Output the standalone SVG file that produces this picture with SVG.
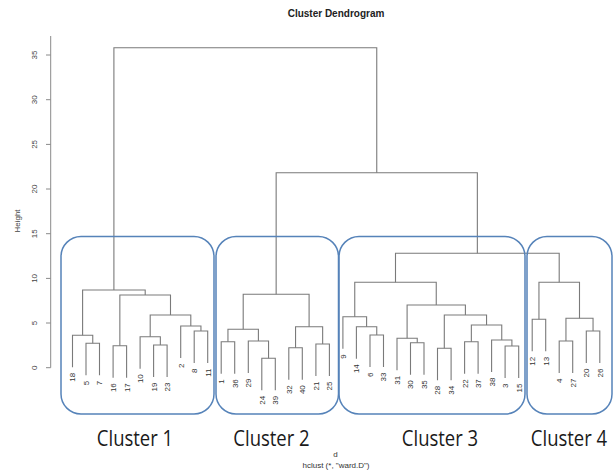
<svg xmlns="http://www.w3.org/2000/svg" width="616" height="470" viewBox="0 0 616 470">
  <style>
    .axis { stroke: #8a8a8a; stroke-width: 1; fill: none; }
    .tick { font-family: "Liberation Sans", Arial, sans-serif; font-size: 8px; fill: #444; text-anchor: middle; }
    .branch { stroke: #7a7a7a; stroke-width: 1.1; fill: none; }
    .leaf text { font-family: "Liberation Sans", Arial, sans-serif; font-size: 8px; fill: #333; text-anchor: end; }
    .box { fill: none; stroke: #5683b9; stroke-width: 1.5; }
    .clabel { font-family: "Open Sans", "Noto Sans", sans-serif; font-size: 18.5px; fill: #1a1a1a; text-anchor: middle; }
    .small { font-family: "Liberation Sans", Arial, sans-serif; font-size: 8px; fill: #333; text-anchor: middle; }
  </style>
  <rect width="616" height="470" fill="#ffffff"/>

  <!-- title -->
  <text x="336" y="17" font-family="Liberation Sans, Arial, sans-serif" font-size="10" font-weight="bold" fill="#222" text-anchor="middle">Cluster Dendrogram</text>

  <!-- y axis -->
  <g id="y-axis">
    <path class="axis" d="M50.7 36 V367.7 M46 367.7 H50.7 M46 323 H50.7 M46 278.4 H50.7 M46 233.7 H50.7 M46 189 H50.7 M46 144.4 H50.7 M46 99.7 H50.7 M46 55 H50.7"/>
    <text class="tick" transform="translate(37,367.7) rotate(-90)">0</text>
    <text class="tick" transform="translate(37,323) rotate(-90)">5</text>
    <text class="tick" transform="translate(37,278.4) rotate(-90)">10</text>
    <text class="tick" transform="translate(37,233.7) rotate(-90)">15</text>
    <text class="tick" transform="translate(37,189) rotate(-90)">20</text>
    <text class="tick" transform="translate(37,144.4) rotate(-90)">25</text>
    <text class="tick" transform="translate(37,99.7) rotate(-90)">30</text>
    <text class="tick" transform="translate(37,55) rotate(-90)">35</text>
    <text class="tick" transform="translate(19.5,221) rotate(-90)">Height</text>
  </g>

  <!-- dendrogram branches -->
  <g id="connectors" class="branch">
    <path d="M86 375.3 V343.3 H99.5 V375.3"/>
    <path d="M72.5 367.3 V335.3 H92.75 V343.3"/>
    <path d="M113.1 377.7 V345.7 H126.6 V377.7"/>
    <path d="M153.6 377 V345 H167.1 V377"/>
    <path d="M140.1 368.7 V336.7 H160.35 V345"/>
    <path d="M194.2 363 V331 H207.7 V363"/>
    <path d="M180.7 358 V326 H200.95 V331"/>
    <path d="M150.2 336.7 V315 H190.8 V326"/>
    <path d="M119.85 345.7 V295 H170.5 V315"/>
    <path d="M82.6 335.3 V290 H145.2 V295"/>

    <path d="M221.2 373.7 V341.7 H234.7 V373.7"/>
    <path d="M261.8 390.3 V358.3 H275.3 V390.3"/>
    <path d="M248.3 373 V341 H268.55 V358.3"/>
    <path d="M227.95 341.7 V329.3 H258.4 V341"/>
    <path d="M288.8 379.7 V347.7 H302.3 V379.7"/>
    <path d="M315.9 376 V344 H329.4 V376"/>
    <path d="M295.55 347.7 V326.7 H322.65 V344"/>
    <path d="M243.2 329.3 V294.3 H309.1 V326.7"/>

    <path d="M370 367 V335 H383.5 V367"/>
    <path d="M356.4 358.7 V326.7 H376.75 V335"/>
    <path d="M342.9 348.7 V316.7 H366.6 V326.7"/>
    <path d="M410.5 374.7 V342.7 H424 V374.7"/>
    <path d="M397 370.3 V338.3 H417.25 V342.7"/>
    <path d="M437.5 380.3 V348.3 H451.1 V380.3"/>
    <path d="M464.6 373.7 V341.7 H478.1 V373.7"/>
    <path d="M505.1 378 V346 H518.7 V378"/>
    <path d="M491.6 372 V340 H511.9 V346"/>
    <path d="M471.35 341.7 V325 H501.75 V340"/>
    <path d="M444.3 348.3 V315 H486.55 V325"/>
    <path d="M407.1 338.3 V305 H465.4 V315"/>
    <path d="M354.75 316.7 V282.3 H436.25 V305"/>

    <path d="M532.2 351.3 V319.3 H545.7 V351.3"/>
    <path d="M559.2 373 V341 H572.7 V373"/>
    <path d="M586.3 363 V331 H599.8 V363"/>
    <path d="M565.95 341 V318.3 H593.05 V331"/>
    <path d="M538.95 319.3 V282.3 H579.5 V318.3"/>

    <path d="M395.5 282.3 V253.3 H559.2 V282.3"/>
    <path d="M276.15 294.3 V172.7 H477.35 V253.3"/>
    <path d="M113.9 290 V47.7 H376.75 V172.7"/>
  </g>

  <!-- leaf labels -->
  <g class="leaf">
    <g id="leaf-18"><text transform="translate(75.4,372.8) rotate(-90)">18</text></g>
    <g id="leaf-5"><text transform="translate(88.9,380.8) rotate(-90)">5</text></g>
    <g id="leaf-7"><text transform="translate(102.4,380.8) rotate(-90)">7</text></g>
    <g id="leaf-16"><text transform="translate(116,383.2) rotate(-90)">16</text></g>
    <g id="leaf-17"><text transform="translate(129.5,383.2) rotate(-90)">17</text></g>
    <g id="leaf-10"><text transform="translate(143,374.2) rotate(-90)">10</text></g>
    <g id="leaf-19"><text transform="translate(156.5,382.5) rotate(-90)">19</text></g>
    <g id="leaf-23"><text transform="translate(170,382.5) rotate(-90)">23</text></g>
    <g id="leaf-2"><text transform="translate(183.6,363.5) rotate(-90)">2</text></g>
    <g id="leaf-8"><text transform="translate(197.1,368.5) rotate(-90)">8</text></g>
    <g id="leaf-11"><text transform="translate(210.6,368.5) rotate(-90)">11</text></g>
    <g id="leaf-1"><text transform="translate(224.1,379.2) rotate(-90)">1</text></g>
    <g id="leaf-36"><text transform="translate(237.6,379.2) rotate(-90)">36</text></g>
    <g id="leaf-29"><text transform="translate(251.2,378.5) rotate(-90)">29</text></g>
    <g id="leaf-24"><text transform="translate(264.7,395.8) rotate(-90)">24</text></g>
    <g id="leaf-39"><text transform="translate(278.2,395.8) rotate(-90)">39</text></g>
    <g id="leaf-32"><text transform="translate(291.7,385.2) rotate(-90)">32</text></g>
    <g id="leaf-40"><text transform="translate(305.2,385.2) rotate(-90)">40</text></g>
    <g id="leaf-21"><text transform="translate(318.8,381.5) rotate(-90)">21</text></g>
    <g id="leaf-25"><text transform="translate(332.3,381.5) rotate(-90)">25</text></g>
    <g id="leaf-9"><text transform="translate(345.8,354.2) rotate(-90)">9</text></g>
    <g id="leaf-14"><text transform="translate(359.3,364.2) rotate(-90)">14</text></g>
    <g id="leaf-6"><text transform="translate(372.9,372.5) rotate(-90)">6</text></g>
    <g id="leaf-33"><text transform="translate(386.4,372.5) rotate(-90)">33</text></g>
    <g id="leaf-31"><text transform="translate(399.9,375.8) rotate(-90)">31</text></g>
    <g id="leaf-30"><text transform="translate(413.4,380.2) rotate(-90)">30</text></g>
    <g id="leaf-35"><text transform="translate(426.9,380.2) rotate(-90)">35</text></g>
    <g id="leaf-28"><text transform="translate(440.4,385.8) rotate(-90)">28</text></g>
    <g id="leaf-34"><text transform="translate(454,385.8) rotate(-90)">34</text></g>
    <g id="leaf-22"><text transform="translate(467.5,379.2) rotate(-90)">22</text></g>
    <g id="leaf-37"><text transform="translate(481,379.2) rotate(-90)">37</text></g>
    <g id="leaf-38"><text transform="translate(494.5,377.5) rotate(-90)">38</text></g>
    <g id="leaf-3"><text transform="translate(508,383.5) rotate(-90)">3</text></g>
    <g id="leaf-15"><text transform="translate(521.6,383.5) rotate(-90)">15</text></g>
    <g id="leaf-12"><text transform="translate(535.1,356.8) rotate(-90)">12</text></g>
    <g id="leaf-13"><text transform="translate(548.6,356.8) rotate(-90)">13</text></g>
    <g id="leaf-4"><text transform="translate(562.1,378.5) rotate(-90)">4</text></g>
    <g id="leaf-27"><text transform="translate(575.6,378.5) rotate(-90)">27</text></g>
    <g id="leaf-20"><text transform="translate(589.2,368.5) rotate(-90)">20</text></g>
    <g id="leaf-26"><text transform="translate(602.7,368.5) rotate(-90)">26</text></g>
  </g>

  <!-- cluster outlines and names (names stretched vertically for a tall, narrow face) -->
  <g id="cluster-1">
    <rect class="box" x="61" y="236.5" width="153" height="177.5" rx="20"/>
    <text class="clabel" transform="translate(135,446) scale(1,1.22)">Cluster 1</text>
  </g>
  <g id="cluster-2">
    <rect class="box" x="216" y="236.5" width="122.5" height="177.5" rx="20"/>
    <text class="clabel" transform="translate(271.5,446) scale(1,1.22)">Cluster 2</text>
  </g>
  <g id="cluster-3">
    <rect class="box" x="339" y="236.5" width="186" height="177.5" rx="20"/>
    <text class="clabel" transform="translate(440,446) scale(1,1.22)">Cluster 3</text>
  </g>
  <g id="cluster-4">
    <rect class="box" x="527" y="236.5" width="85" height="177.5" rx="20"/>
    <text class="clabel" transform="translate(569,446) scale(1,1.22)">Cluster 4</text>
  </g>

  <!-- x axis caption -->
  <text class="small" x="335.5" y="457">d</text>
  <text class="small" x="336" y="467.5">hclust (*, "ward.D")</text>
</svg>
